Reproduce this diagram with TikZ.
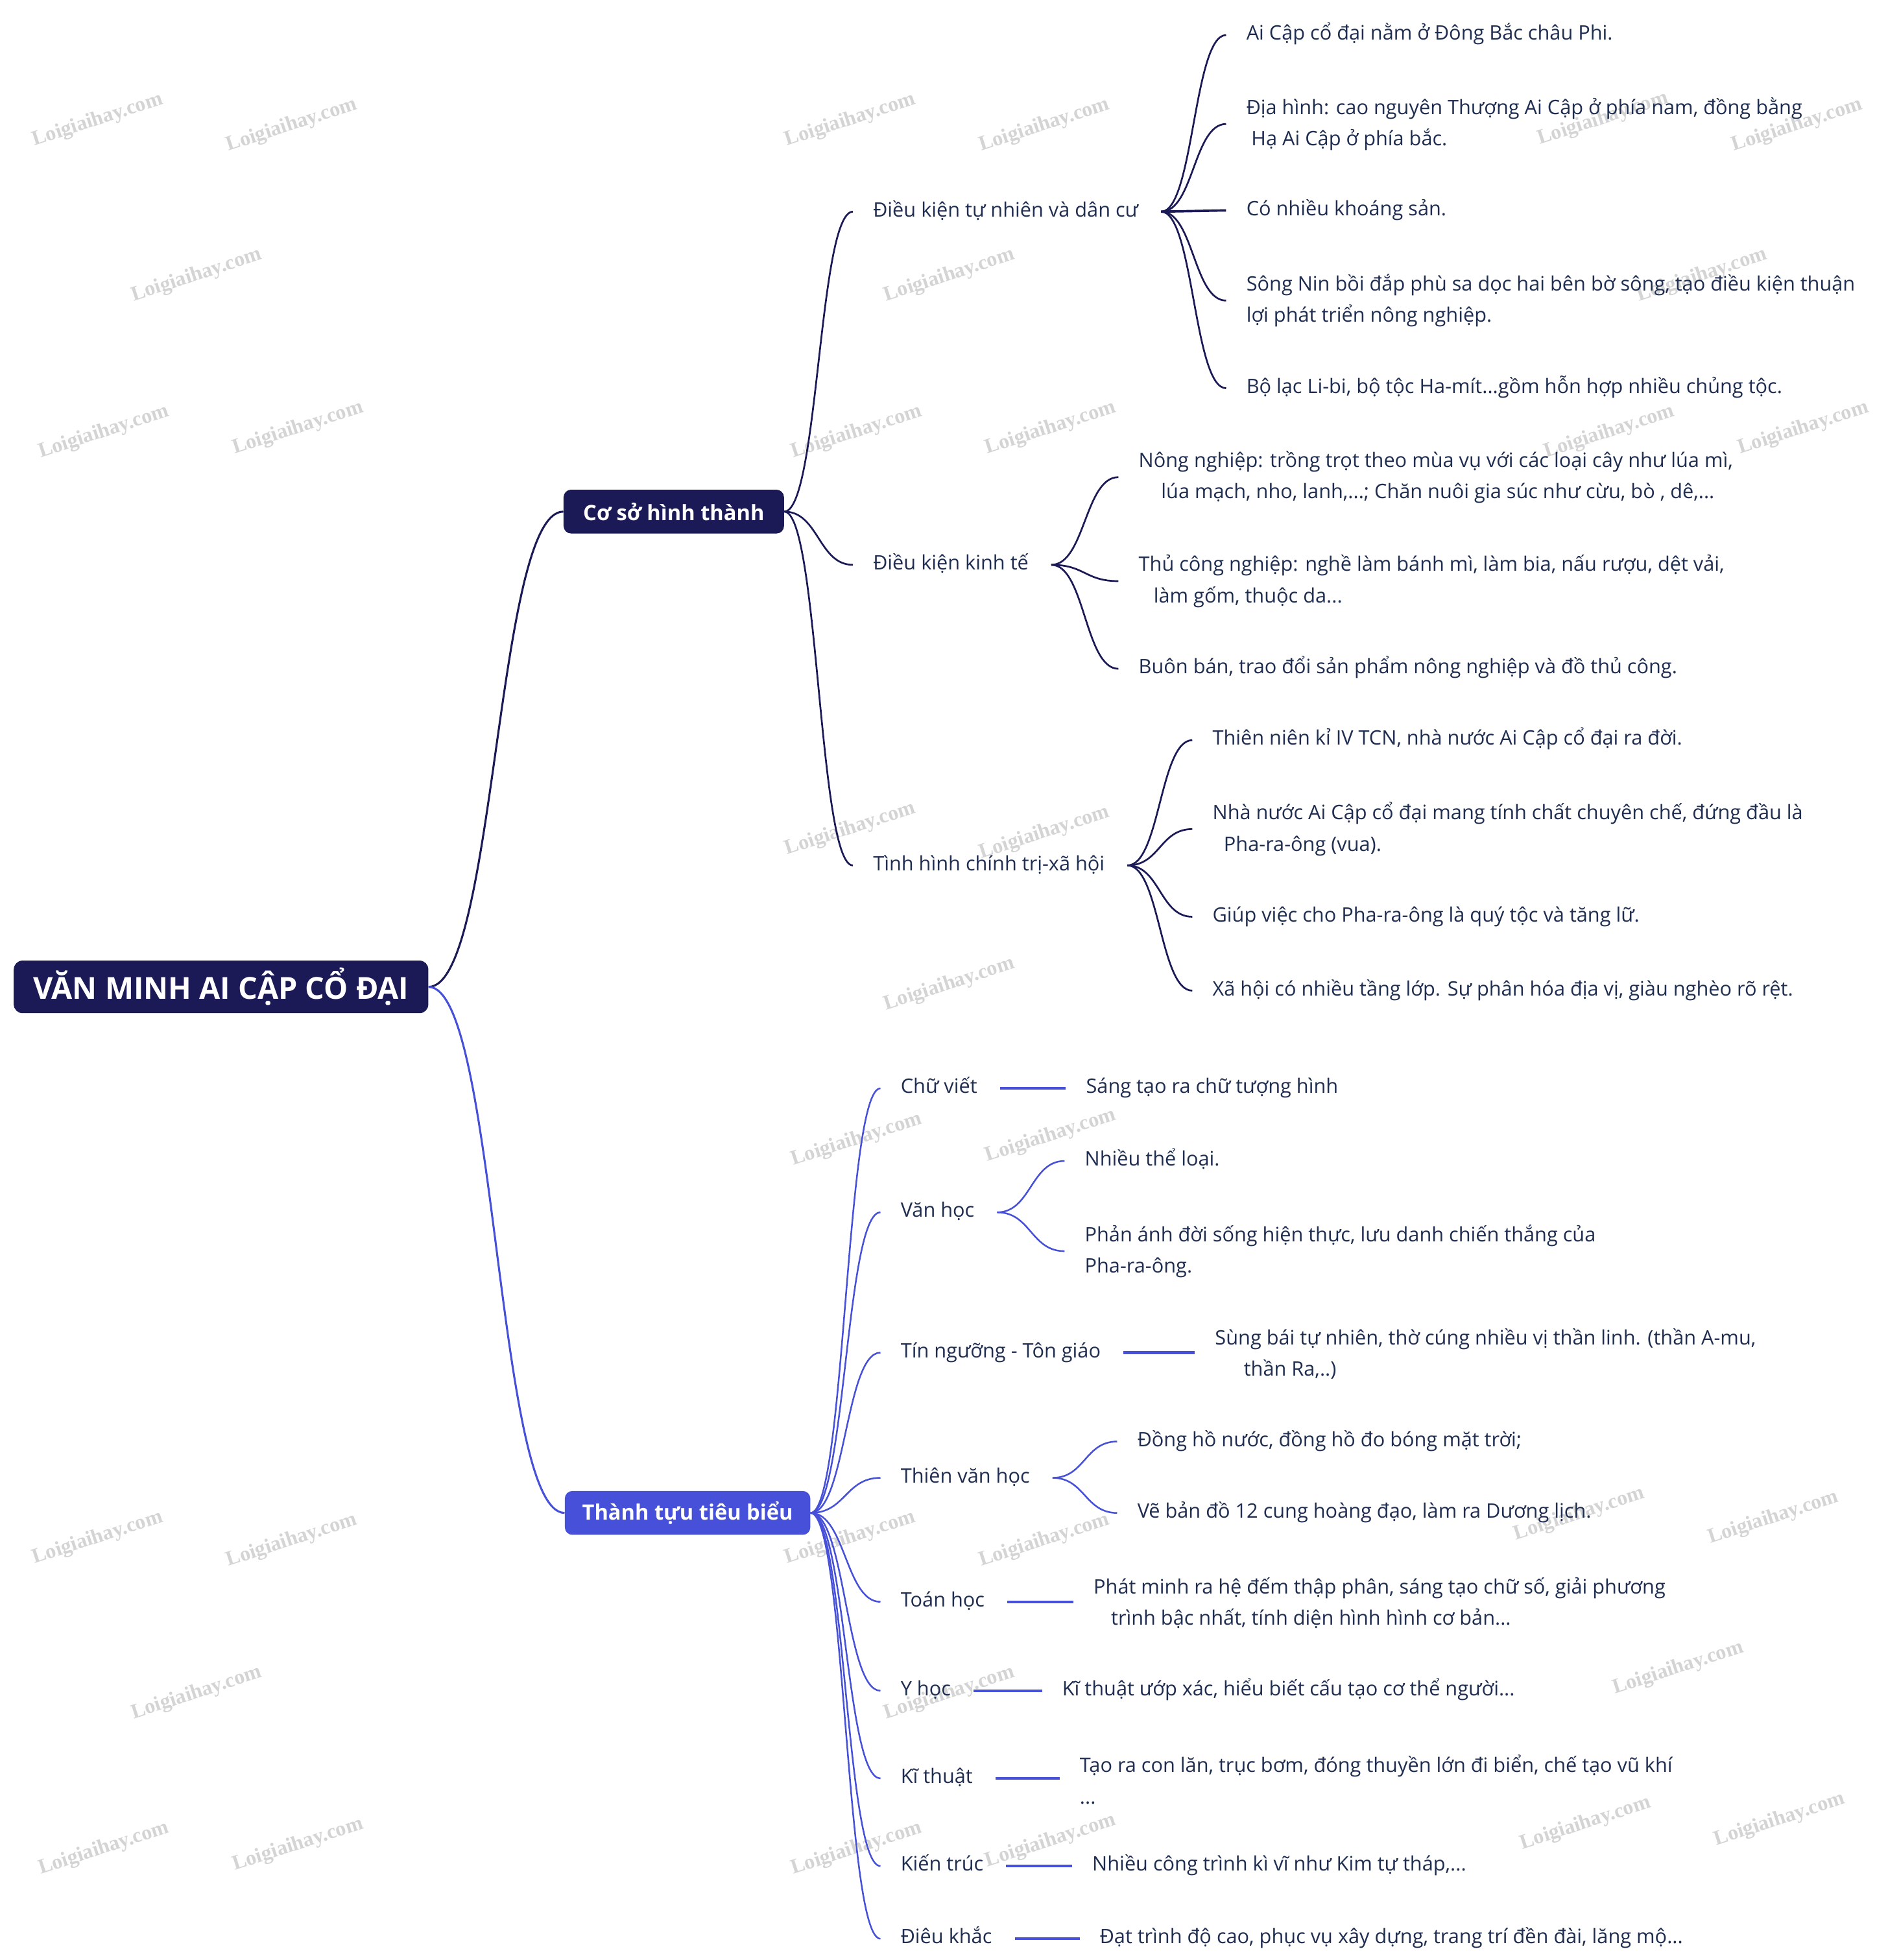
\documentclass[tikz,border=0pt]{standalone}
\usepackage{fontspec}
\setmainfont{Open Sans}
\newfontfamily\wmfont{Liberation Serif}
\usetikzlibrary{calc}
\definecolor{navy}{RGB}{27,26,87}
\definecolor{blu}{RGB}{70,80,216}
\definecolor{txt}{RGB}{31,45,80}
\definecolor{wm}{RGB}{212,212,212}
\begin{document}
\begin{tikzpicture}[x=1pt,y=-1pt,
  curv/.style={to path={let \p1=(\tikztostart), \p2=(\tikztotarget) in
      .. controls ({0.5*(\x1+\x2)},\y1) and ({0.5*(\x1+\x2)},\y2) .. (\tikztotarget)}},
  navyline/.style={draw=navy, line width=1.4pt},
  bluline/.style={draw=blu, line width=1.3pt},
  navystraight/.style={draw=navy, line width=1.9pt},
  blustraight/.style={draw=blu, line width=2.1pt},
  leafm/.style={anchor=west, inner sep=0pt, text=txt, font=\fontsize{15.9}{25}\selectfont, align=left},
  leaf/.style={leafm, text height=11.8pt, text depth=3.8pt},
  rootbox/.style={fill=navy, rounded corners=7pt, text=white, inner sep=0pt,
      minimum width=331pt, minimum height=42pt, font=\fontsize{24.2}{27}\selectfont\bfseries},
  mainbox/.style={rounded corners=6pt, text=white, inner sep=0pt,
      minimum height=35pt, font=\fontsize{16.9}{20}\selectfont\bfseries},
  wmark/.style={text=wm, inner sep=0pt, rotate=18, font=\wmfont\bfseries\fontsize{16.6}{18}\selectfont}
]
\fill[white] (0,0) rectangle (1507,1565);
\useasboundingbox (0,0) rectangle (1507,1565);

% watermarks
\foreach \wx/\wy in {78/96,233/100,679/96,834/100,1280/95,1435/100,
  157/220,758/220,1359/220,
  83/345,238/342,684/345,839/342,1285/345,1440/342,
  679/662,834/665,758/786,684/910,839/907,
  78/1228,233/1230,679/1228,834/1230,1261/1209,1416/1212,
  157/1352,758/1352,1340/1332,
  83/1476,238/1473,684/1476,839/1470,1266/1456,1421/1453}
  \node[wmark] at (\wx,\wy) {Loigiaihay.com};

% main nodes
\node[rootbox] (root) at (176.5,788) {VĂN MINH AI CẬP CỔ ĐẠI};
\node[mainbox, fill=navy, minimum width=176pt] (cs) at (538,408.5) {Cơ sở hình thành};
\node[mainbox, fill=blu, minimum width=196pt] (tt) at (549,1208) {Thành tựu tiêu biểu};

% level 2 upper
\node[leaf] (a) at (697,169) {Điều kiện tự nhiên và dân cư};
\node[leaf] (b) at (697,451) {Điều kiện kinh tế};
\node[leaf] (c) at (697,691) {Tình hình chính trị-xã hội};

% level 3 (a)
\node[leaf] (a1) at (995,28) {Ai Cập cổ đại nằm ở Đông Bắc châu Phi.};
\node[leafm] (a2) at (995,99) {Địa hình: cao nguyên Thượng Ai Cập ở phía nam, đồng bằng\\\hspace*{4pt}Hạ Ai Cập ở phía bắc.};
\node[leaf] (a3) at (995,168) {Có nhiều khoáng sản.};
\node[leafm] (a4) at (995,240) {Sông Nin bồi đắp phù sa dọc hai bên bờ sông, tạo điều kiện thuận\\lợi phát triển nông nghiệp.};
\node[leaf] (a5) at (995,310) {Bộ lạc Li-bi, bộ tộc Ha-mít...gồm hỗn hợp nhiều chủng tộc.};

% level 3 (b)
\node[leafm] (b1) at (909,381) {Nông nghiệp: trồng trọt theo mùa vụ với các loại cây như lúa mì,\\\hspace*{18pt}lúa mạch, nho, lanh,...; Chăn nuôi gia súc như cừu, bò , dê,...};
\node[leafm] (b2) at (909,464) {Thủ công nghiệp: nghề làm bánh mì, làm bia, nấu rượu, dệt vải,\\\hspace*{12pt}làm gốm, thuộc da...};
\node[leaf] (b3) at (909,534) {Buôn bán, trao đổi sản phẩm nông nghiệp và đồ thủ công.};

% level 3 (c)
\node[leaf] (c1) at (968,591) {Thiên niên kỉ IV TCN, nhà nước Ai Cập cổ đại ra đời.};
\node[leafm] (c2) at (968,662) {Nhà nước Ai Cập cổ đại mang tính chất chuyên chế, đứng đầu là\\\hspace*{9pt}Pha-ra-ông (vua).};
\node[leaf] (c3) at (968,732) {Giúp việc cho Pha-ra-ông là quý tộc và tăng lữ.};
\node[leaf] (c4) at (968,791) {Xã hội có nhiều tầng lớp. Sự phân hóa địa vị, giàu nghèo rõ rệt.};

% level 2 lower
\node[leaf] (cv) at (719,869) {Chữ viết};
\node[leaf] (vh) at (719,968) {Văn học};
\node[leaf] (tn) at (719,1080) {Tín ngưỡng - Tôn giáo};
\node[leaf] (tv) at (719,1180) {Thiên văn học};
\node[leaf] (th) at (719,1279) {Toán học};
\node[leaf] (yh) at (719,1350) {Y học};
\node[leaf] (kt) at (719,1420) {Kĩ thuật};
\node[leaf] (ktr) at (719,1490) {Kiến trúc};
\node[leaf] (dk) at (719,1548) {Điêu khắc};

% level 3 lower
\node[leaf] (cv1) at (867,869) {Sáng tạo ra chữ tượng hình};
\node[leaf] (vh1) at (866,927) {Nhiều thể loại.};
\node[leafm] (vh2) at (866,999) {Phản ánh đời sống hiện thực, lưu danh chiến thắng của\\Pha-ra-ông.};
\node[leafm] (tn1) at (970,1081) {Sùng bái tự nhiên, thờ cúng nhiều vị thần linh. (thần A-mu,\\\hspace*{23pt}thần Ra,..)};
\node[leaf] (tv1) at (908,1151) {Đồng hồ nước, đồng hồ đo bóng mặt trời;};
\node[leaf] (tv2) at (908,1208) {Vẽ bản đồ 12 cung hoàng đạo, làm ra Dương lịch.};
\node[leafm] (th1) at (873,1280) {Phát minh ra hệ đếm thập phân, sáng tạo chữ số, giải phương\\\hspace*{14pt}trình bậc nhất, tính diện hình hình cơ bản...};
\node[leaf] (yh1) at (848,1350) {Kĩ thuật ướp xác, hiểu biết cấu tạo cơ thể người...};
\node[leafm] (kt1) at (862,1421) {Tạo ra con lăn, trục bơm, đóng thuyền lớn đi biển, chế tạo vũ khí\\...};
\node[leaf] (ktr1) at (872,1490) {Nhiều công trình kì vĩ như Kim tự tháp,...};
\node[leaf] (dk1) at (878,1548) {Đạt trình độ cao, phục vụ xây dựng, trang trí đền đài, lăng mộ...};

% connectors: root
\draw[navyline, line width=1.6pt] (root.east) to[curv] (cs.west);
\draw[bluline, line width=1.6pt] (root.east) to[curv] (tt.west);

% upper level 2
\foreach \n in {a,b,c}
  \draw[navyline] (cs.east) to[curv] ([xshift=-16pt]\n.west);
% upper level 3
\foreach \n in {a1,a2,a4,a5}
  \draw[navyline] ([xshift=18pt]a.east) to[curv] ([xshift=-16pt]\n.west);
\draw[navystraight] ([xshift=18pt]a.east) -- ([xshift=-16pt]a3.west);
\foreach \n in {b1,b2,b3}
  \draw[navyline] ([xshift=18pt]b.east) to[curv] ([xshift=-16pt]\n.west);
\foreach \n in {c1,c2,c3,c4}
  \draw[navyline] ([xshift=18pt]c.east) to[curv] ([xshift=-16pt]\n.west);

% lower level 2
\foreach \n in {cv,vh,tn,tv,th,yh,kt,ktr,dk}
  \draw[bluline] (tt.east) to[curv] ([xshift=-16pt]\n.west);
% lower level 3
\draw[blustraight] ([xshift=18pt]cv.east) -- ([xshift=-16pt]cv1.west);
\draw[bluline] ([xshift=18pt]vh.east) to[curv] ([xshift=-16pt]vh1.west);
\draw[bluline] ([xshift=18pt]vh.east) to[curv] ([xshift=-16pt]vh2.west);
\draw[blustraight] ([xshift=18pt]tn.east) -- ([xshift=-16pt]tn.east -| tn1.west);
\draw[bluline] ([xshift=18pt]tv.east) to[curv] ([xshift=-16pt]tv1.west);
\draw[bluline] ([xshift=18pt]tv.east) to[curv] ([xshift=-16pt]tv2.west);
\draw[blustraight] ([xshift=18pt]th.east) -- ([xshift=-16pt]th.east -| th1.west);
\draw[blustraight] ([xshift=18pt]yh.east) -- ([xshift=-16pt]yh1.west);
\draw[blustraight] ([xshift=18pt]kt.east) -- ([xshift=-16pt]kt.east -| kt1.west);
\draw[blustraight] ([xshift=18pt]ktr.east) -- ([xshift=-16pt]ktr1.west);
\draw[blustraight] ([xshift=18pt]dk.east) -- ([xshift=-16pt]dk1.west);
\end{tikzpicture}
\end{document}
